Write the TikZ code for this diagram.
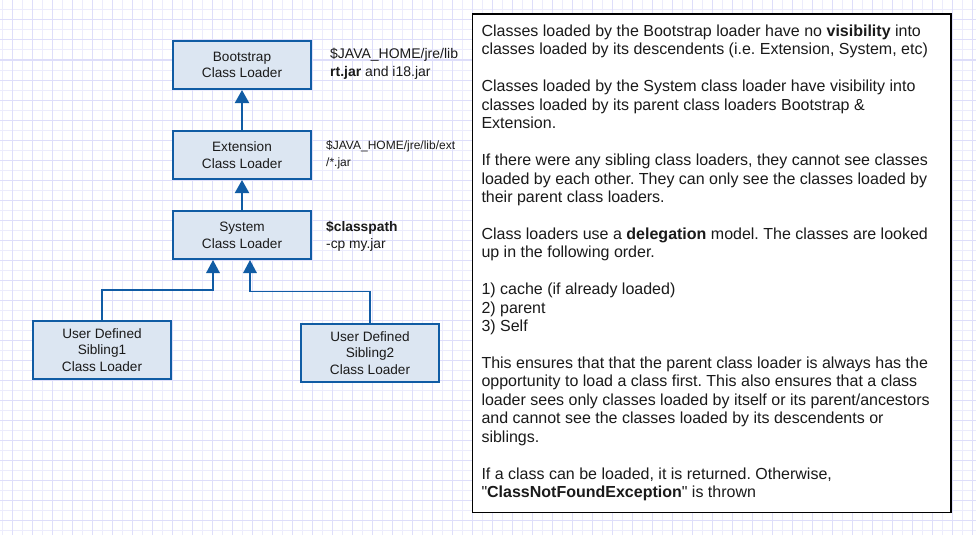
\documentclass[tikz,border=0pt]{standalone}
\usepackage{fontspec}
\setmainfont{Liberation Sans}[Ligatures=TeXOff]
\usetikzlibrary{arrows.meta}
\definecolor{bblue}{RGB}{16,92,164}
\definecolor{bfill}{RGB}{220,230,242}
\definecolor{gminor}{RGB}{236,236,252}
\definecolor{gmajor}{RGB}{222,222,250}
\definecolor{txt}{RGB}{26,26,26}
\begin{document}
\frenchspacing
\begin{tikzpicture}[x=1pt,y=-1pt,
 loader/.style={draw=bblue, line width=2.2pt, fill=bfill, minimum width=137.8pt, minimum height=47.8pt, align=center, font=\fontsize{13.6}{16.7}\selectfont, text=txt, inner sep=0pt},
 sib/.style={loader, minimum height=57.8pt},
 arr/.style={draw=bblue, line width=2pt, -{Triangle[width=14pt,length=13pt]}},
 sarr/.style={draw=bblue, line width=1.5pt, -{Triangle[width=13.5pt,length=13pt]}},
 lbl/.style={anchor=west, align=left, inner sep=0pt, text=txt, font=\fontsize{14}{17.7}\selectfont},
 gline/.style={draw=gminor, line width=1pt},
 gmaj/.style={draw=gmajor, line width=1pt}]
\useasboundingbox[fill=white] (0,0) rectangle (976,535);
% grid
\foreach \i in {0,...,97} \draw[gline] ({2.3+10*\i},0) -- ({2.3+10*\i},535);
\foreach \j in {1,...,53} \draw[gline] (0,{10*\j}) -- (976,{10*\j});
\foreach \i in {0,...,48} \draw[gmaj] ({12.3+20*\i},0) -- ({12.3+20*\i},535);
\foreach \j in {1,...,26} \draw[gmaj] (0,{20*\j}) -- (976,{20*\j});
% loaders
\node[loader] (boot) at (242,65) {Bootstrap\\Class Loader};
\node[loader] (ext) at (242,155) {Extension\\Class Loader};
\node[loader] (sys) at (242,235) {System\\Class Loader};
\node[sib] (s1) at (102,350) {User Defined\\Sibling1\\Class Loader};
\node[sib] (s2) at (370,353) {User Defined\\Sibling2\\Class Loader};
% labels
\node[lbl] (bootlbl) at (330,64) {\$JAVA\_HOME/jre/lib\\\textbf{rt.jar} and i18.jar};
\node[lbl, font=\fontsize{12}{16.7}\selectfont] (extlbl) at (326,155) {\$JAVA\_HOME/jre/lib/ext\\/*.jar};
\node[lbl, font=\fontsize{13.8}{16.7}\selectfont] (syslbl) at (326,236) {\textbf{\$classpath}\\-cp my.jar};
% connectors
\draw[arr] (ext.north) -- (boot.south);
\draw[arr] (sys.north) -- (ext.south);
\coordinate (j1) at (213,290);
\coordinate (j2) at (250,291.5);
\draw[sarr] (s1.north) |- (j1) -- (j1 |- sys.south);
\draw[sarr] (s2.north) |- (j2) -- (j2 |- sys.south);
% note
\node[draw=black, line width=1.3pt, fill=white, minimum width=478.7pt, minimum height=498.7pt, inner sep=0pt] (note) at (711.7,263.3) {};
\node[anchor=north west, align=left, inner sep=0pt, font=\fontsize{16}{18.45}\selectfont, text=txt] (notetext) at (481.3,24.6) {%
Classes loaded by the Bootstrap loader have no \textbf{visibility} into\\
classes loaded by its descendents (i.e. Extension, System, etc)\\[18.45pt]
Classes loaded by the System class loader have visibility into\\
classes loaded by its parent class loaders Bootstrap \&\\
Extension.\\[18.45pt]
If there were any sibling class loaders, they cannot see classes\\
loaded by each other. They can only see the classes loaded by\\
their parent class loaders.\\[18.45pt]
Class loaders use a \textbf{delegation} model. The classes are looked\\
up in the following order.\\[18.45pt]
1) cache (if already loaded)\\
2) parent\\
3) Self\\[18.45pt]
This ensures that that the parent class loader is always has the\\
opportunity to load a class first. This also ensures that a class\\
loader sees only classes loaded by itself or its parent/ancestors\\
and cannot see the classes loaded by its descendents or\\
siblings.\\[18.45pt]
If a class can be loaded, it is returned. Otherwise,\\
"\textbf{ClassNotFoundException}" is thrown};
\end{tikzpicture}
\end{document}
